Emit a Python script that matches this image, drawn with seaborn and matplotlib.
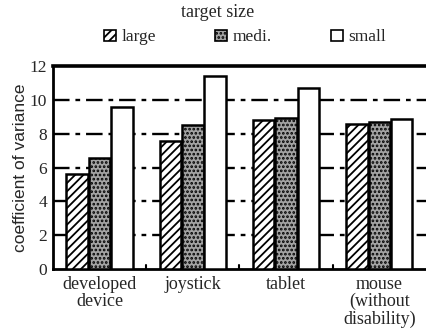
import matplotlib
matplotlib.use("Agg")
import matplotlib.pyplot as plt
from matplotlib.patches import Patch
import seaborn as sns
import pandas as pd

devices = ["developed\ndevice", "joystick", "tablet", "mouse\n(without\ndisability)"]
sizes = ["large", "medi.", "small"]
large_cv = [5.6, 7.6, 8.8, 8.6]
medi_cv = [6.6, 8.5, 8.95, 8.7]
small_cv = [9.6, 11.4, 10.7, 8.9]
y_ticks = [0, 2, 4, 6, 8, 10, 12]

rows = []
for size, vals in zip(sizes, [large_cv, medi_cv, small_cv]):
    for dev, v in zip(devices, vals):
        rows.append({"device": dev, "size": size, "cv": v})
df = pd.DataFrame(rows)

sns.set_style("white")
plt.rcParams["font.family"] = ["Liberation Serif", "DejaVu Serif"]
plt.rcParams["hatch.linewidth"] = 1.3

fig = plt.figure(figsize=(4.26, 3.31), dpi=100)
ax = fig.add_axes([0.124, 0.187, 0.876, 0.613])

styles = {
    "large": dict(facecolor="white", hatch="////"),
    "medi.": dict(facecolor="#a3a3a3", hatch="...."),
    "small": dict(facecolor="white", hatch=None),
}

sns.barplot(data=df, x="device", y="cv", hue="size", hue_order=sizes,
            order=devices, palette=["white"] * 3, edgecolor="black",
            linewidth=1.8, width=0.72, gap=0.04, legend=False, ax=ax, zorder=3)

for container, size in zip(ax.containers, sizes):
    for bar in container:
        bar.set_facecolor(styles[size]["facecolor"])
        bar.set_hatch(styles[size]["hatch"])
        bar.set_edgecolor("black")

ax.set_ylim(0, 12)
ax.set_xlim(-0.5, 3.5)
ax.set_yticks(y_ticks)
ax.set_yticklabels([str(t) for t in y_ticks], fontsize=12.5)
ax.set_xlabel("")
ax.set_ylabel("coefficient of variance", fontsize=12.5,
              family=["Liberation Sans", "DejaVu Sans"], labelpad=1)
ax.tick_params(axis="x", length=0, labelsize=13, pad=5)
ax.tick_params(axis="y", length=0, pad=4)

for lbl in ax.get_xticklabels():
    lbl.set_linespacing(1.0)
    lbl.set_verticalalignment("top")

for t in y_ticks[1:-1]:
    ax.axhline(t, color="black", lw=1.7, ls=(0, (7, 2.5, 2, 2.5)), zorder=1)

for side in ["top", "left", "bottom"]:
    ax.spines[side].set_color("black")
ax.spines["top"].set_linewidth(2.6)
ax.spines["left"].set_linewidth(2.0)
ax.spines["bottom"].set_linewidth(2.0)
ax.spines["right"].set_visible(False)

for xb in [0.5, 1.5, 2.5]:
    ax.plot([xb, xb], [0, 0.25], color="black", lw=1.5, zorder=2)

fig.text(0.512, 0.962, "target size", ha="center", va="center", fontsize=13)

handles = [Patch(facecolor=styles[s]["facecolor"], hatch=styles[s]["hatch"],
                 edgecolor="black", linewidth=1.2) for s in sizes]
leg = fig.legend(handles, sizes, ncol=3, loc="center",
                 bbox_to_anchor=(0.575, 0.887), frameon=False, fontsize=12.5,
                 handlelength=0.7, handleheight=0.6, handletextpad=0.3,
                 columnspacing=3.4, borderaxespad=0.1)

fig.savefig("out.png", dpi=100)
